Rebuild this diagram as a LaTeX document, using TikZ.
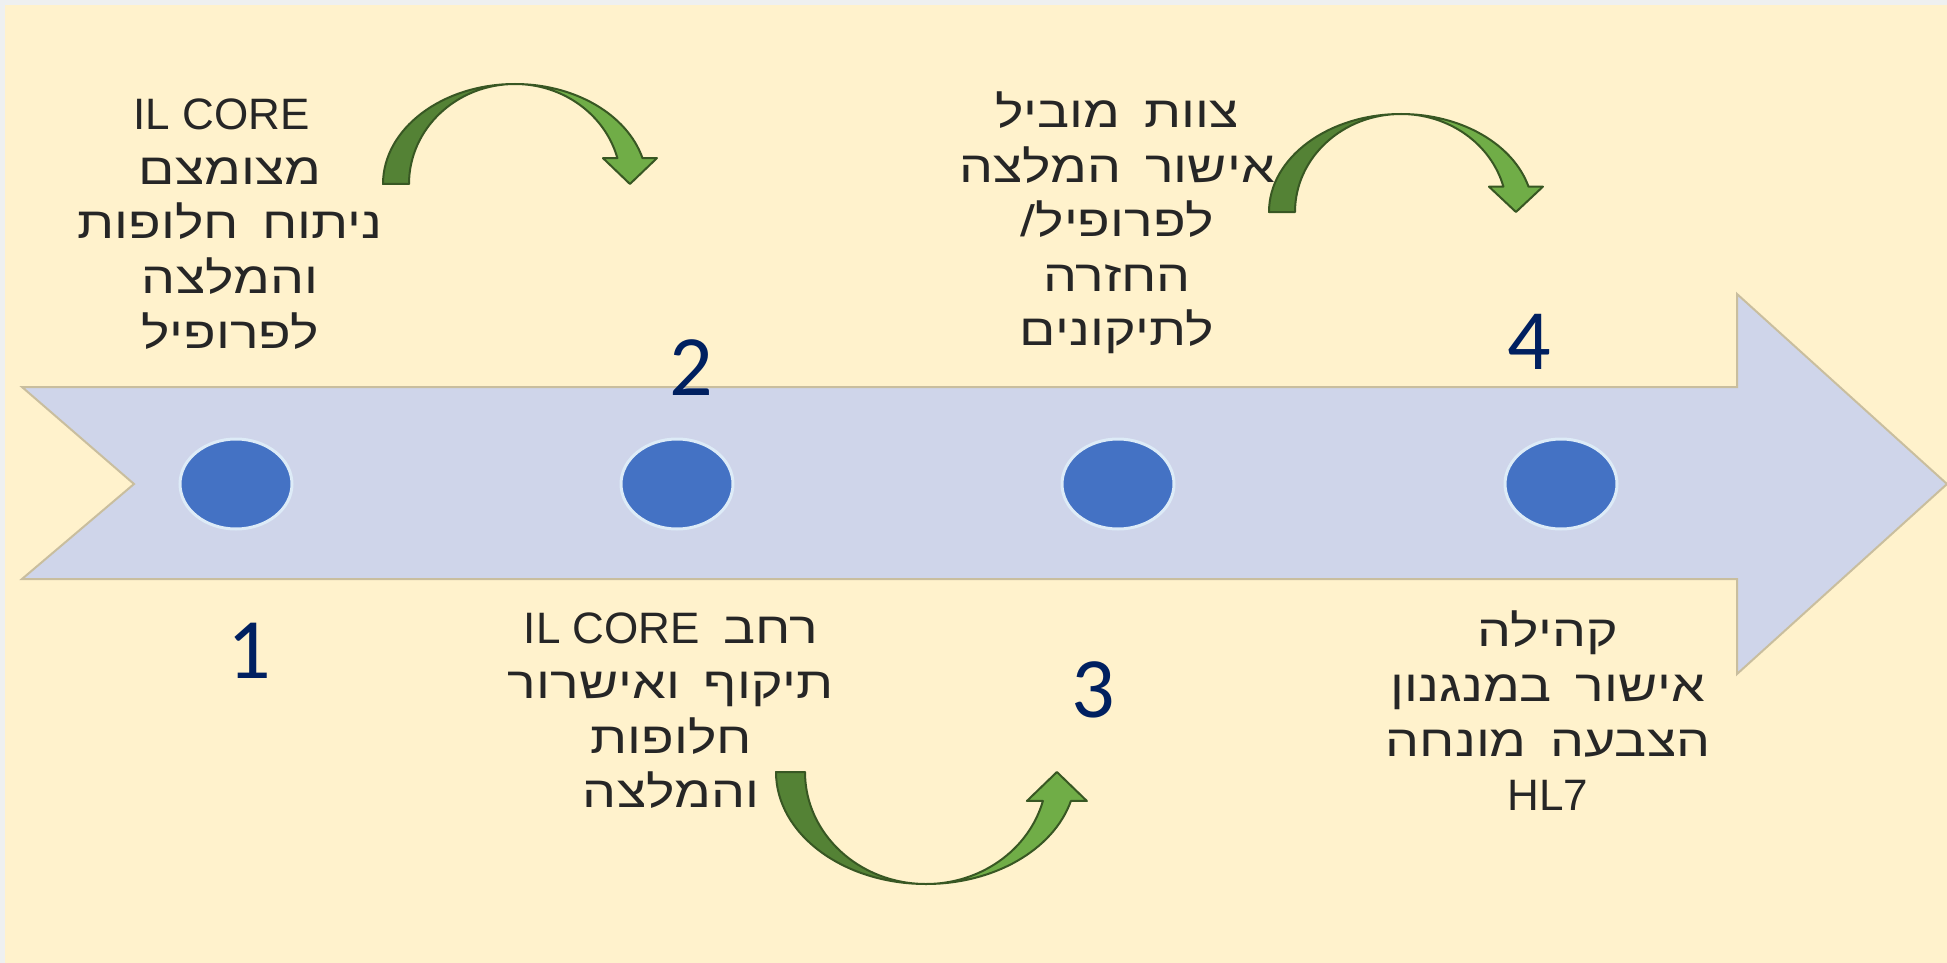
\documentclass[tikz,border=0pt]{standalone}
\usepackage{fontspec}
\setmainfont{Liberation Sans}
\newfontfamily\hebfont[Script=Hebrew,FakeStretch=1.22,WordSpace=1.6]{Liberation Sans}
\newfontfamily\numfont{Carlito}
\TeXXeTstate=1
\usetikzlibrary{shapes.geometric}
\definecolor{bg}{HTML}{FFF2CC}
\definecolor{edgegray}{HTML}{EEF0F0}
\definecolor{band}{HTML}{CFD5EA}
\definecolor{bandline}{HTML}{C9BE9E}
\definecolor{dotblue}{HTML}{4472C4}
\definecolor{dotrim}{HTML}{DDEBF7}
\definecolor{numblue}{HTML}{002060}
\definecolor{gdark}{HTML}{548235}
\definecolor{glight}{HTML}{70AD47}
\definecolor{gline}{HTML}{385723}
\definecolor{txtgray}{HTML}{262626}
\newcommand\rl[1]{{\hebfont\beginR #1\endR}}
\newcommand\greenarc[7]{%
  \begin{scope}[shift={(#1,#2)},yscale=#7]
    \filldraw[darkpart] (-#3,0) arc[start angle=180,end angle=270,x radius=#3,y radius=#5]
      arc[start angle=270,end angle=180,x radius=#4,y radius=#5] -- cycle;
    \filldraw[lightpart] (0,-#5) arc[start angle=270,end angle=345,x radius=#3,y radius=#5]
      -- ({(#3+#4)/2*cos(15)+#6},{-#5*sin(15)})
      -- ({(#3+#4)/2*cos(15)},0)
      -- ({(#3+#4)/2*cos(15)-#6},{-#5*sin(15)})
      -- ({#4*cos(15)},{-#5*sin(15)})
      arc[start angle=345,end angle=270,x radius=#4,y radius=#5] -- cycle;
  \end{scope}}
\tikzset{
  darkpart/.style={fill=gdark,draw=gline,line width=2pt,line join=round},
  lightpart/.style={fill=glight,draw=gline,line width=2pt,line join=round},
  dot/.style={ellipse,fill=dotblue,draw=dotrim,line width=3pt,minimum width=112pt,minimum height=90pt,inner sep=0pt},
  num/.style={text=numblue,font=\numfont\fontsize{86}{90}\selectfont,inner sep=0pt},
  txt/.style={text=txtgray,font=\rmfamily\fontsize{44}{54.6}\selectfont,align=center,inner sep=0pt}
}
\begin{document}
\begin{tikzpicture}[x=1pt,y=-1pt]
\useasboundingbox (0,0) rectangle (1947,963);
\fill[edgegray] (0,0) rectangle (1947,963);
\fill[bg] (5,5) rectangle (1947,963);
% main timeline arrow
\filldraw[fill=band,draw=bandline,line width=2pt,line join=miter]
  (22,387) -- (1737,387) -- (1737,294) -- (1947,484) -- (1737,674) -- (1737,579) -- (22,579) -- (134,484) -- cycle;
% dots
\node[dot] (d1) at (236,484) {};
\node[dot] (d2) at (677,484) {};
\node[dot] (d3) at (1118,484) {};
\node[dot] (d4) at (1561,484) {};
% numbers
\node[num] (n1) at (249,651) {1};
\node[num] (n2) at (691,368) {2};
\node[num] (n3) at (1093,690) {3};
\node[num] (n4) at (1529,342) {4};
% texts
\node[txt] (t1) at (230,224) {IL CORE\hspace*{17pt}\\ \rl{מצומצם}\\ \rl{ניתוח חלופות}\\ \rl{והמלצה}\\ \rl{לפרופיל}};
\node[txt] (t2) at (1117,223) {\rl{צוות מוביל}\\ \rl{אישור המלצה}\\ \rl{לפרופיל/}\\ \rl{החזרה}\\ \rl{לתיקונים}};
\node[txt] (t3) at (671,711) {\rl{רחב \beginL{\rmfamily IL CORE}\endL}\\ \rl{תיקוף ואישרור}\\ \rl{חלופות}\\ \rl{והמלצה}};
\node[txt] (t4) at (1548,711) {\rl{קהילה}\\ \rl{אישור במנגנון}\\ \rl{הצבעה מונחה}\\ HL7};
% curved arrows
\greenarc{515}{184}{132}{106}{100}{27}{1}
\greenarc{1401}{212}{132}{106}{98}{27}{1}
\greenarc{926}{772}{150}{121}{112}{30}{-1}
\end{tikzpicture}
\end{document}
